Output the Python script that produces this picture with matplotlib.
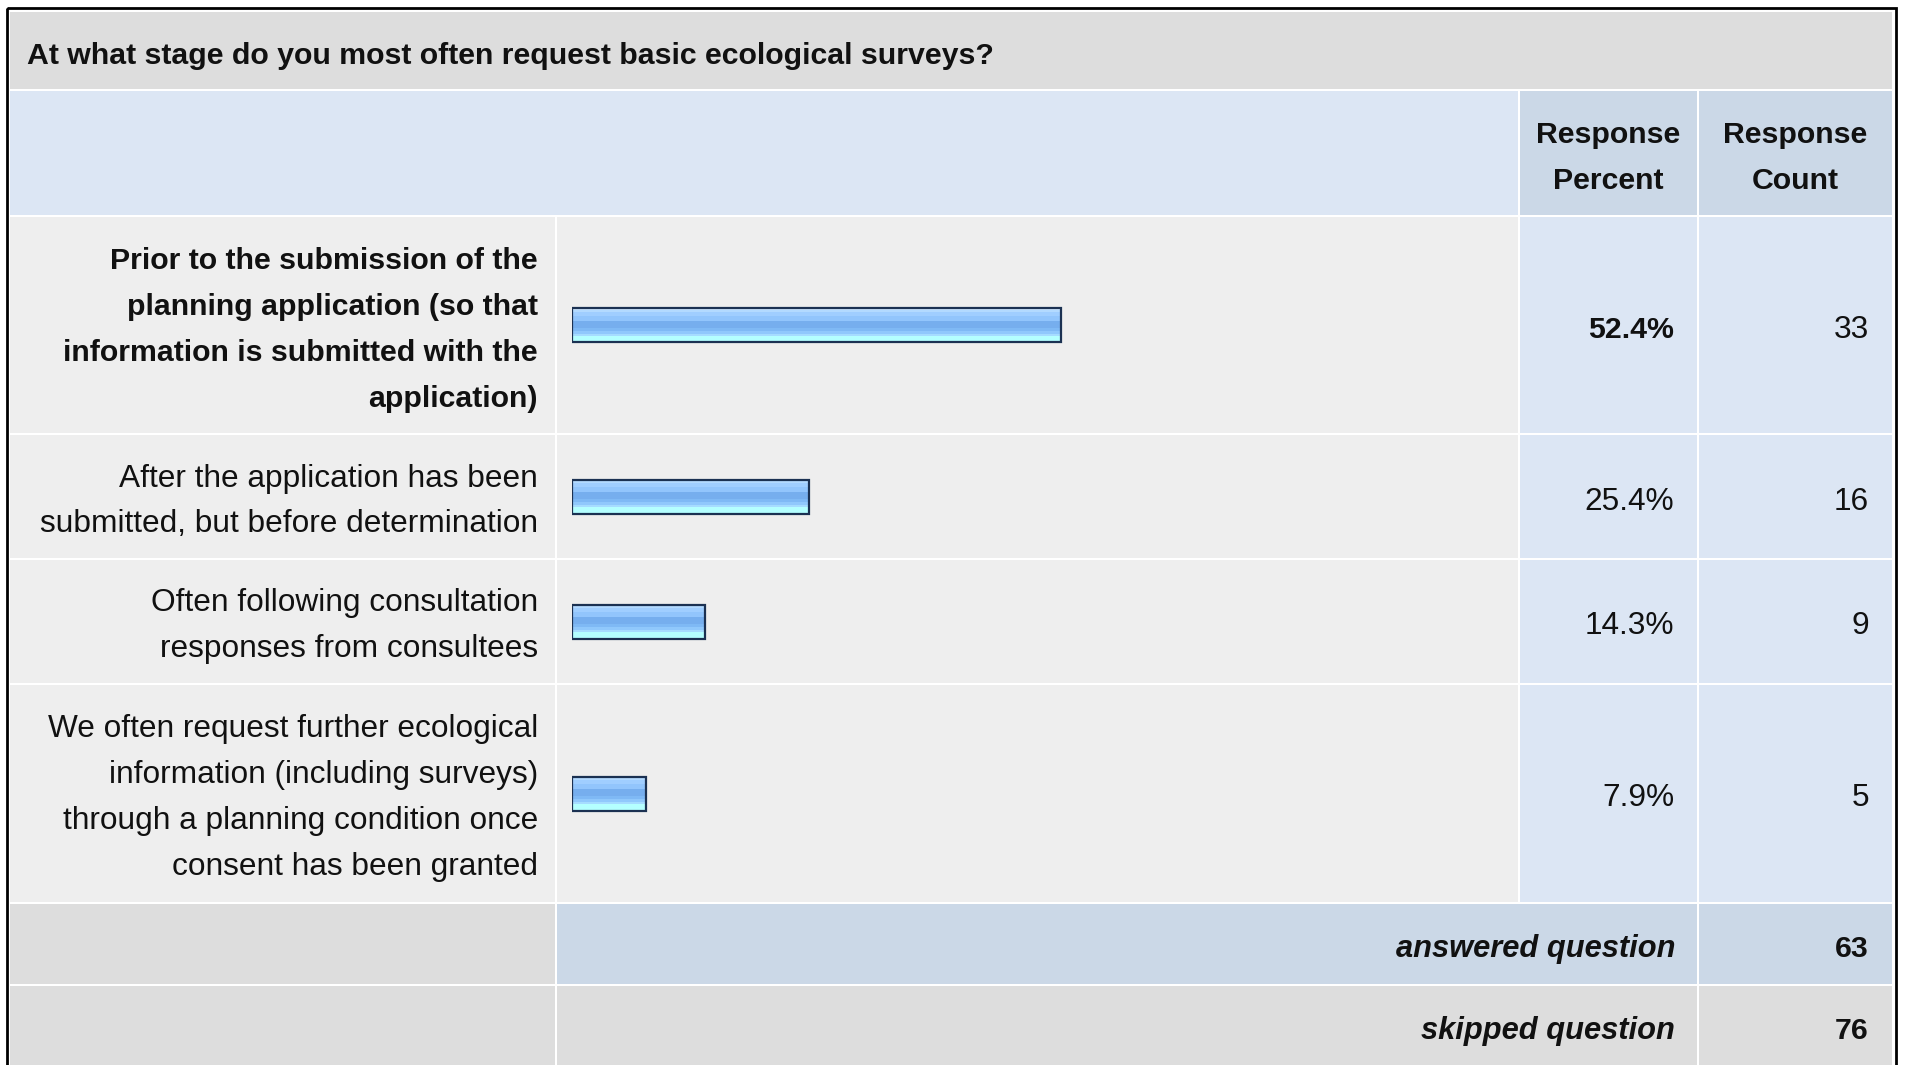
import numpy as np
import matplotlib
matplotlib.use("Agg")
import matplotlib.pyplot as plt
from matplotlib.patches import Rectangle

question = "At what stage do you most often request basic ecological surveys?"
answer_labels = [
    "Prior to the submission of the\nplanning application (so that\ninformation is submitted with the\napplication)",
    "After the application has been\nsubmitted, but before determination",
    "Often following consultation\nresponses from consultees",
    "We often request further ecological\ninformation (including surveys)\nthrough a planning condition once\nconsent has been granted",
]
response_percent = [52.4, 25.4, 14.3, 7.9]
response_count = [33, 16, 9, 5]
header_labels = ["Response\nPercent", "Response\nCount"]
answered_question = 63
skipped_question = 76

# ---- layout (pixels, figure is 1907x1065) ----
W, H = 1907, 1065
FS_BOLD = 21.8
FS_REG = 22.8
FS_IT = 22.2
DY = 5  # nudge text down to sit like the html rendering
plt.rcParams["font.family"] = ["Liberation Sans", "DejaVu Sans"]

col_x = [(10, 555), (557, 1518), (1520, 1697), (1699, 1892)]
title_y = (12, 89)
header_y = (91, 215)
row_y = [(217, 433), (435, 558), (560, 683), (685, 902)]
answered_y = (904, 984)
skipped_y = (986, 1075)
line_step = 46
bar_x0, bar_x100 = 572, 1505
bar_h = 34

GREY = "#dddddd"
LIGHT = "#eeeeee"
BLUE = "#dce6f4"
BLUE2 = "#cbd8e7"
INK = "#111111"

fig = plt.figure(figsize=(W / 100, H / 100), dpi=100)
ax = fig.add_axes([0, 0, 1, 1])
ax.set_xlim(0, W)
ax.set_ylim(H, 0)
ax.axis("off")


def cell(x, y, color):
    ax.add_patch(Rectangle((x[0], y[0]), x[1] - x[0], y[1] - y[0], facecolor=color, edgecolor="none", zorder=1))


def lines(text, x, yc, ha, bold=False):
    parts = text.split("\n")
    n = len(parts)
    for i, s in enumerate(parts):
        y = yc + (i - (n - 1) / 2) * line_step + DY
        ax.text(x, y, s, ha=ha, va="center", color=INK, zorder=5,
                fontsize=FS_BOLD if bold else FS_REG,
                fontweight="bold" if bold else "normal")


# title band
cell((col_x[0][0], col_x[3][1]), title_y, GREY)
ax.text(27, sum(title_y) / 2 + DY, question, ha="left", va="center", fontsize=FS_BOLD,
        fontweight="bold", color=INK, zorder=5)

# header
cell((col_x[0][0], col_x[1][1]), header_y, BLUE)
cell(col_x[2], header_y, BLUE2)
cell(col_x[3], header_y, BLUE2)
for c, lab in zip(col_x[2:], header_labels):
    lines(lab, sum(c) / 2, sum(header_y) / 2, "center", bold=True)

# answer rows
top = max(response_percent)
for i, ry in enumerate(row_y):
    cell(col_x[0], ry, LIGHT)
    cell(col_x[1], ry, LIGHT)
    cell(col_x[2], ry, BLUE)
    cell(col_x[3], ry, BLUE)
    yc = sum(ry) / 2
    is_top = response_percent[i] == top
    lines(answer_labels[i], 538, yc, "right", bold=is_top)
    lines(f"{response_percent[i]}%", 1674, yc, "right", bold=is_top)
    lines(str(response_count[i]), 1869, yc, "right")

# footer rows
cell(col_x[0], answered_y, GREY)
cell((col_x[1][0], col_x[2][1]), answered_y, BLUE2)
cell(col_x[3], answered_y, BLUE2)
cell(col_x[0], skipped_y, GREY)
cell((col_x[1][0], col_x[2][1]), skipped_y, GREY)
cell(col_x[3], skipped_y, GREY)
for yc, lab, val in [(944, "answered question", answered_question),
                     (1026, "skipped question", skipped_question)]:
    ax.text(1675, yc + DY, lab, ha="right", va="center", fontsize=FS_IT, fontweight="bold",
            fontstyle="italic", color=INK, zorder=5)
    ax.text(1869, yc + DY, str(val), ha="right", va="center", fontsize=FS_BOLD, fontweight="bold",
            color=INK, zorder=5)

# outer frame
ax.add_patch(Rectangle((7, 8), 1888.5, 1100, facecolor="none", edgecolor="black", lw=2.0, zorder=6))

# ---- bars: own axes in percent units over the bar column ----
bx = fig.add_axes([bar_x0 / W, 0, (bar_x100 - bar_x0) / W, 1])
bx.set_xlim(0, 100)
bx.set_ylim(H, 0)
bx.axis("off")
bx.patch.set_alpha(0)

# glossy gradient, top to bottom
bands = [("#cde6ff", 2), ("#b3daff", 2), ("#a0ceff", 4), ("#92c5fc", 5), ("#76aeee", 6),
         ("#7fb9f5", 3), ("#90c8fc", 3), ("#a6dcff", 2), ("#b4ffff", 6)]
grad = []
for c, n in bands:
    grad += [matplotlib.colors.to_rgb(c)] * n
grad = np.array(grad).reshape(-1, 1, 3)

centers = [sum(ry) / 2 for ry in row_y]
for yc, p in zip(centers, response_percent):
    bx.imshow(grad, extent=(0, p, yc + bar_h / 2, yc - bar_h / 2), aspect="auto",
              interpolation="nearest", zorder=2)
bx.barh(centers, response_percent, height=bar_h, left=0, facecolor="none",
        edgecolor="#1b3152", linewidth=1.6, zorder=3)
bx.set_xlim(0, 100)
bx.set_ylim(H, 0)

fig.savefig("out.png", dpi=100)
